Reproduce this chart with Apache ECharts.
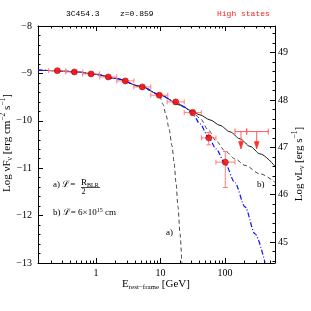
<!DOCTYPE html>
<html><head><meta charset="utf-8">
<script src="https://cdn.jsdelivr.net/npm/echarts@6/dist/echarts.min.js"></script>
<style>html,body{margin:0;padding:0;background:#fff}#c{width:311px;height:311px}</style>
</head><body><div id="c"></div>
<script>
// ---------- data ----------
const X_MIN = 0.1259, X_MAX = 596;
const Y_MIN = -13, Y_MAX = -8;
const R_OFFSET = 57.56;               // log(4 pi dL^2)
const xMajor = [1, 10, 100];
const xMinor = [0.2,0.3,0.4,0.5,0.6,0.7,0.8,0.9,2,3,4,5,6,7,8,9,20,30,40,50,60,70,80,90,200,300,400,500];
const rMajor = [45, 46, 47, 48, 49];
const rMinor = [44.6,44.8,45.2,45.4,45.6,45.8,46.2,46.4,46.6,46.8,47.2,47.4,47.6,47.8,48.2,48.4,48.6,48.8,49.2,49.4];

const ptE   = [0.251, 0.461, 0.837, 1.55, 2.85, 5.22, 9.58, 17.2, 31.6, 55.9, 101];
const ptF   = [-8.942, -8.969, -9.011, -9.075, -9.159, -9.285, -9.460, -9.601, -9.827, -10.360, -10.872];
const ptElo = [0.185, 0.340, 0.618, 1.144, 2.10, 3.85, 7.07, 12.7, 23.3, 43.3, 72.4];
const ptEhi = [0.340, 0.625, 1.134, 2.10, 3.86, 7.07, 12.98, 23.3, 42.8, 72.4, 142.8];
const ptFlo = [-8.97, -9.00, -9.04, -9.105, -9.19, -9.315, -9.495, -9.64, -9.88, -10.507, -11.407];
const ptFhi = [-8.915, -8.94, -8.98, -9.045, -9.13, -9.255, -9.425, -9.56, -9.775, -10.248, -10.649];

const ulE   = [177, 310];
const ulF   = [-10.227, -10.227];
const ulElo = [142.8, 217];
const ulEhi = [217, 469];

const solidE = [0.1259, 0.25, 0.5, 1, 2, 5, 10, 20, 30, 40.96, 58.53, 83.65, 119.5, 170.9, 244.2, 348.8, 596];
const solidF = [-8.933, -8.942, -8.969, -9.022, -9.106, -9.275, -9.460, -9.665, -9.785, -9.875, -9.981, -10.097, -10.233, -10.381, -10.539, -10.697, -10.960];

const curveAE = [0.1259, 0.25, 0.5, 1, 2, 5, 7.0, 8.22, 9.82, 10.93, 12.17, 13.55, 15.08, 16.19, 17.39, 18.67, 20.06, 21.38];
const curveAF = [-8.933, -8.942, -8.969, -9.022, -9.106, -9.275, -9.365, -9.412, -9.507, -9.654, -9.875, -10.170, -10.528, -10.866, -11.308, -11.814, -12.383, -12.994];

const curveBE = [0.1259, 0.25, 0.5, 1, 2, 5, 10, 20, 31.6, 40.96, 55.1, 72.5, 100, 142.9, 204.2, 348.8, 596];
const curveBF = [-8.933, -8.942, -8.969, -9.022, -9.106, -9.275, -9.460, -9.665, -9.812, -9.949, -10.191, -10.423, -10.634, -10.802, -10.939, -11.118, -11.298];

const blueE = [0.1259, 0.25, 0.5, 1, 2, 5, 10, 17.4, 23.97, 31.6, 40.96, 55.1, 72.5, 100, 142.9, 204.2, 291.9, 417.2];
const blueF = [-8.933, -8.942, -8.969, -9.022, -9.106, -9.275, -9.460, -9.612, -9.717, -9.854, -10.065, -10.339, -10.592, -10.897, -11.308, -11.814, -12.383, -12.994];

// ---------- style ----------
const SERIF = 'Liberation Serif';
const MONO = 'Liberation Mono';
const ERR = '#ff7d7d';
const GL = {left: 38, top: 26, width: 237, height: 237};

const pair = (a, b) => a.map((v, i) => [v, b[i]]);
const mctx = document.createElement('canvas').getContext('2d');
function tw(t, s, fam) { mctx.font = s + 'px "' + fam + '"'; return mctx.measureText(t).width; }
function runKids(parts, fam, color, center) {
  let total = 0; parts.forEach(p => total += tw(p.t, p.s, fam));
  let x = center ? -total / 2 : 0; const kids = [];
  parts.forEach(p => {
    kids.push({type: 'text', x: x, y: (p.dy || 0),
      style: {text: p.t, font: p.s + 'px "' + fam + '"', fill: color, align: 'left', verticalAlign: 'middle'}});
    x += tw(p.t, p.s, fam);
  });
  return kids;
}

const chart = echarts.init(document.getElementById('c'), null, {renderer: 'canvas', width: 311, height: 311});

function lineSeries(E, F, color, type, width, z) {
  return {type: 'line', data: pair(E, F), showSymbol: false, symbol: 'none', smooth: 0.3, smoothMonotone: 'x',
    lineStyle: {color: color, type: type, width: width}, xAxisIndex: 0, yAxisIndex: 0, z: z, silent: true, clip: true};
}

function errRender(params, api) {
  const e = api.value(0), f = api.value(1), el = api.value(2), eh = api.value(3), fl = api.value(4), fh = api.value(5);
  const pL = api.coord([el, f]), pR = api.coord([eh, f]), pB = api.coord([e, fl]), pT = api.coord([e, fh]);
  const c = 2.5, st = {stroke: ERR, lineWidth: 1};
  const L = (x1, y1, x2, y2) => ({type: 'line', shape: {x1, y1, x2, y2}, style: st});
  return {type: 'group', children: [
    L(pL[0], pL[1], pR[0], pR[1]), L(pL[0], pL[1] - c, pL[0], pL[1] + c), L(pR[0], pR[1] - c, pR[0], pR[1] + c),
    L(pB[0], pB[1], pT[0], pT[1]), L(pB[0] - c, pB[1], pB[0] + c, pB[1]), L(pT[0] - c, pT[1], pT[0] + c, pT[1])
  ]};
}
function ulRender(params, api) {
  const e = api.value(0), f = api.value(1), el = api.value(2), eh = api.value(3);
  const p = api.coord([e, f]), pL = api.coord([el, f]), pR = api.coord([eh, f]);
  const c = 3, st = {stroke: '#ff5a5a', lineWidth: 1};
  const L = (x1, y1, x2, y2) => ({type: 'line', shape: {x1, y1, x2, y2}, style: st});
  return {type: 'group', children: [
    L(pL[0], pL[1], pR[0], pR[1]), L(pL[0], pL[1] - c, pL[0], pL[1] + c), L(pR[0], pR[1] - c, pR[0], pR[1] + c),
    L(p[0], p[1], p[0], p[1] + 17),
    {type: 'polygon', shape: {points: [[p[0] - 2.5, p[1] + 10], [p[0] + 2.5, p[1] + 10], [p[0], p[1] + 17.5]]},
      style: {fill: '#ff3030', stroke: '#ff3030', lineWidth: 0.5}}
  ]};
}

const tickLbl = {fontFamily: SERIF, fontSize: 10, color: '#000'};
const axLine = {show: true, lineStyle: {color: '#000', width: 1}};

const option = {
  animation: false,
  backgroundColor: '#fff',
  grid: Object.assign({containLabel: false}, GL),
  xAxis: [
    {type: 'log', logBase: 10, min: X_MIN, max: X_MAX, position: 'bottom', axisLine: axLine,
     axisTick: {show: true, inside: true, length: 5, customValues: xMajor, lineStyle: {color: '#000'}},
     axisLabel: Object.assign({customValues: xMajor, margin: 5, formatter: v => String(v)}, tickLbl),
     splitLine: {show: false}, minorTick: {show: false}},
    {type: 'log', logBase: 10, min: X_MIN, max: X_MAX, position: 'bottom', axisLine: {show: false},
     axisTick: {show: true, inside: true, length: 2.5, customValues: xMinor, lineStyle: {color: '#000'}},
     axisLabel: {show: false}, splitLine: {show: false}},
    {type: 'log', logBase: 10, min: X_MIN, max: X_MAX, position: 'top', axisLine: axLine,
     axisTick: {show: true, inside: true, length: 5, customValues: xMajor, lineStyle: {color: '#000'}},
     axisLabel: {show: false}, splitLine: {show: false}},
    {type: 'log', logBase: 10, min: X_MIN, max: X_MAX, position: 'top', axisLine: {show: false},
     axisTick: {show: true, inside: true, length: 2.5, customValues: xMinor, lineStyle: {color: '#000'}},
     axisLabel: {show: false}, splitLine: {show: false}}
  ],
  yAxis: [
    {type: 'value', min: Y_MIN, max: Y_MAX, interval: 1, position: 'left', axisLine: axLine,
     axisTick: {show: true, inside: true, length: 5, lineStyle: {color: '#000'}},
     minorTick: {show: true, splitNumber: 5, length: 2.5, lineStyle: {color: '#000'}},
     axisLabel: Object.assign({margin: 6, formatter: v => (v < 0 ? '\u2212' + (-v) : String(v))}, tickLbl),
     splitLine: {show: false}},
    {type: 'value', min: Y_MIN + R_OFFSET, max: Y_MAX + R_OFFSET, position: 'right', axisLine: axLine,
     axisTick: {show: true, inside: true, length: 5, customValues: rMajor, lineStyle: {color: '#000'}},
     axisLabel: Object.assign({customValues: rMajor, margin: 3, formatter: v => String(Math.round(v))}, tickLbl),
     splitLine: {show: false}},
    {type: 'value', min: Y_MIN + R_OFFSET, max: Y_MAX + R_OFFSET, position: 'right', axisLine: {show: false},
     axisTick: {show: true, inside: true, length: 2.5, customValues: rMinor, lineStyle: {color: '#000'}},
     axisLabel: {show: false}, splitLine: {show: false}}
  ],
  series: [
    lineSeries(solidE, solidF, '#1a1a1a', 'solid', 1, 2),
    lineSeries(curveAE, curveAF, '#444', [4, 3], 1, 3),
    lineSeries(curveBE, curveBF, '#444', [4, 3], 1, 3),
    lineSeries(blueE, blueF, '#1010ff', [5, 2, 1, 2], 1.2, 4),
    {type: 'custom', renderItem: errRender, xAxisIndex: 0, yAxisIndex: 0, z: 5, silent: true,
     encode: {x: 0, y: 1},
     data: ptE.map((e, i) => [e, ptF[i], ptElo[i], ptEhi[i], ptFlo[i], ptFhi[i]])},
    {type: 'custom', renderItem: ulRender, xAxisIndex: 0, yAxisIndex: 0, z: 5, silent: true,
     encode: {x: 0, y: 1},
     data: ulE.map((e, i) => [e, ulF[i], ulElo[i], ulEhi[i]])},
    {type: 'scatter', data: pair(ptE, ptF), symbol: 'circle', symbolSize: 6, xAxisIndex: 0, yAxisIndex: 0, z: 6, silent: true,
     itemStyle: {color: '#ff0000', borderColor: '#900000', borderWidth: 0.7}}
  ],
  graphic: [
    {type: 'text', left: 66, top: 10, style: {text: '3C454.3', font: '8px "' + MONO + '"', fill: '#000'}},
    {type: 'text', left: 120, top: 10, style: {text: 'z=0.859', font: '8px "' + MONO + '"', fill: '#000'}},
    {type: 'text', left: 217, top: 10, style: {text: 'High states', font: '8px "' + MONO + '"', fill: '#ff2020'}},
    {type: 'group', x: 7, y: 143, rotation: Math.PI / 2, children: runKids([
      {t: 'Log \u03bdF', s: 11}, {t: '\u03bd', s: 7.5, dy: 3}, {t: ' [erg cm', s: 11}, {t: '\u22122', s: 7.5, dy: -4},
      {t: ' s', s: 11}, {t: '\u22121', s: 7.5, dy: -4}, {t: ']', s: 11}], SERIF, '#000', true)},
    {type: 'group', x: 299, y: 164, rotation: Math.PI / 2, children: runKids([
      {t: 'Log \u03bdL', s: 11}, {t: '\u03bd', s: 7.5, dy: 3}, {t: ' [erg s', s: 11}, {t: '\u22121', s: 7.5, dy: -4},
      {t: ']', s: 11}], SERIF, '#000', true)},
    {type: 'group', x: 156, y: 284, children: runKids([
      {t: 'E', s: 11}, {t: 'rest\u2212frame', s: 7, dy: 3}, {t: ' [GeV]', s: 11}], SERIF, '#000', true)},
    {type: 'group', x: 53, y: 185, children: runKids([{t: 'a) \u2112= ', s: 9}], SERIF, '#000', false)},
    {type: 'group', x: 81, y: 183, children: runKids([{t: 'R', s: 9}, {t: 'BLR', s: 6, dy: 2}], SERIF, '#000', false)},
    {type: 'line', shape: {x1: 81, y1: 187.5, x2: 100, y2: 187.5}, style: {stroke: '#000', lineWidth: 0.7}},
    {type: 'group', x: 81.5, y: 191.5, children: runKids([{t: '2', s: 8}], SERIF, '#000', false)},
    {type: 'group', x: 53, y: 213, children: runKids([
      {t: 'b) \u2112= ', s: 9}, {t: '6\u00d710', s: 9}, {t: '15', s: 6, dy: -3}, {t: ' cm', s: 9}], SERIF, '#000', false)},
    {type: 'group', x: 166, y: 233, children: runKids([{t: 'a)', s: 9}], SERIF, '#000', false)},
    {type: 'group', x: 257, y: 185, children: runKids([{t: 'b)', s: 9}], SERIF, '#000', false)}
  ]
};
chart.setOption(option);
</script></body></html>
